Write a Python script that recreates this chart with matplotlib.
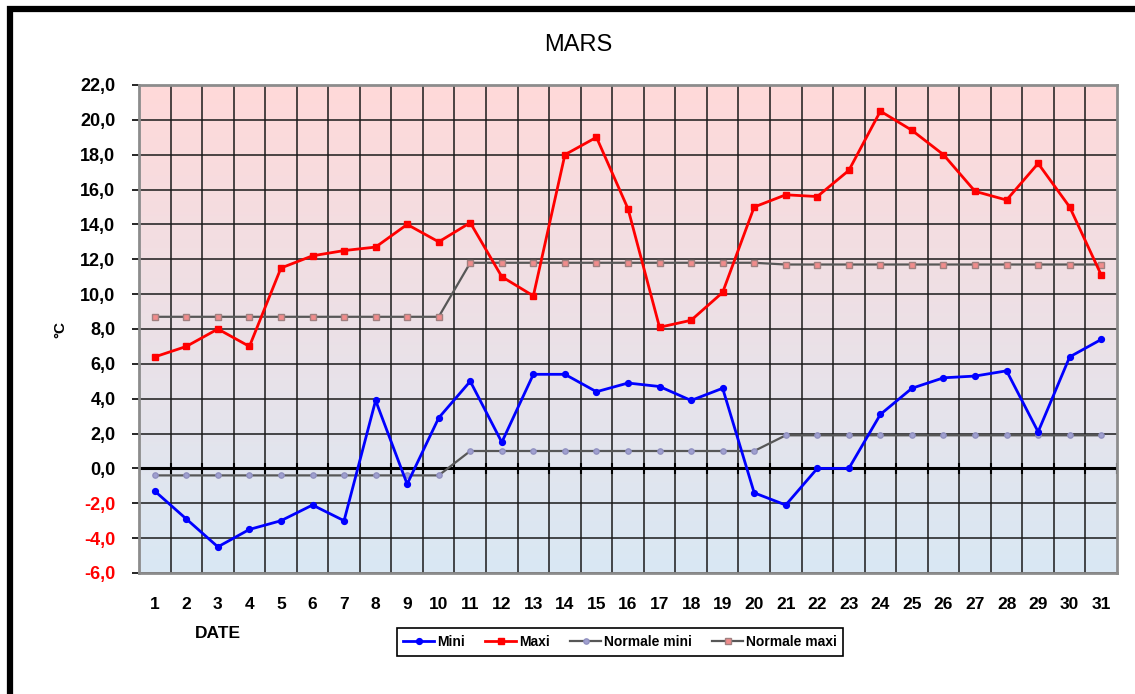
import matplotlib
matplotlib.use('Agg')
import matplotlib.pyplot as plt
import numpy as np
from matplotlib.colors import LinearSegmentedColormap
from matplotlib.patches import Rectangle

plt.rcParams['font.family'] = ['Liberation Sans', 'DejaVu Sans']

# Daily temperatures for March
days = list(range(1, 32))
mini = [-1.3, -2.9, -4.5, -3.5, -3.0, -2.1, -3.0, 3.9, -0.9, 2.9,
        5.0, 1.5, 5.4, 5.4, 4.4, 4.9, 4.7, 3.9, 4.6, -1.4,
        -2.1, 0.0, 0.0, 3.1, 4.6, 5.2, 5.3, 5.6, 2.1, 6.4, 7.4]
maxi = [6.4, 7.0, 8.0, 7.0, 11.5, 12.2, 12.5, 12.7, 14.0, 13.0,
        14.1, 11.0, 9.9, 18.0, 19.0, 14.9, 8.1, 8.5, 10.1, 15.0,
        15.7, 15.6, 17.1, 20.5, 19.4, 18.0, 15.9, 15.4, 17.5, 15.0, 11.1]
normale_mini = [-0.4] * 10 + [1.0] * 10 + [1.9] * 11
normale_maxi = [8.7] * 10 + [11.8] * 10 + [11.7] * 11

y_ticks = np.arange(-6, 23, 2)

fig = plt.figure(figsize=(11.35, 6.94), dpi=100)
ax = fig.add_axes([139 / 1135, 1 - 573 / 694, (1117 - 139) / 1135, (573 - 85) / 694])

xmin, xmax = 0.5, len(days) + 0.5
ymin, ymax = -6, 22

# background gradient (pink at top, light blue at bottom)
cmap = LinearSegmentedColormap.from_list('bg', ['#d9e8f4', '#ffd9d9'])
grad = np.linspace(0, 1, 256).reshape(-1, 1)
ax.imshow(grad, extent=[xmin, xmax, ymin, ymax], origin='lower', aspect='auto',
          cmap=cmap, zorder=0)

# grid
for yv in y_ticks:
    ax.axhline(yv, color='#1a1a1a', lw=1.1, zorder=1)
bounds = np.arange(xmin, xmax + 0.01, 1)
for xv in bounds[1:-1]:
    ax.axvline(xv, color='#1a1a1a', lw=1.1, zorder=1)

# zero axis line with cross ticks
ax.axhline(0, color='black', lw=2.2, zorder=2)
ax.vlines(bounds, -0.3, 0.3, color='black', lw=1.5, zorder=2)

ax.plot(days, normale_mini, color='#575757', lw=1.6, marker='o', ms=3.8,
        mfc='#a0a0d0', mec='#9090c0', zorder=3, label='Normale mini')
ax.plot(days, normale_maxi, color='#575757', lw=1.6, marker='s', ms=3.8,
        mfc='#f08c8c', mec='#a08080', zorder=3, label='Normale maxi')
ax.plot(days, mini, color='#0000ff', lw=2.0, marker='o', ms=4.2,
        zorder=4, label='Mini')
ax.plot(days, maxi, color='#ff0000', lw=2.0, marker='s', ms=5,
        zorder=4, label='Maxi')

ax.set_xlim(xmin, xmax)
ax.set_ylim(ymin, ymax)

ax.set_yticks(y_ticks)
ax.set_yticklabels([f'{v:.1f}'.replace('.', ',') for v in y_ticks],
                   fontsize=13, fontweight='bold')
for lab, v in zip(ax.get_yticklabels(), y_ticks):
    lab.set_color('red' if v < 0 else 'black')
ax.tick_params(axis='y', direction='out', length=5, width=1.2, pad=12)

ax.set_xticks(days)
ax.set_xticklabels([str(d) for d in days], fontsize=12.5, fontweight='bold')
ax.tick_params(axis='x', length=0, pad=17)

for sp in ax.spines.values():
    sp.set_color('#8c8c8c')
    sp.set_linewidth(2)

fig.text(578 / 1135, 1 - 45 / 694, 'MARS', fontsize=17, ha='center', va='center')
fig.text(60 / 1135, 1 - 330 / 694, '°C', fontsize=11, fontweight='bold',
         rotation=90, ha='center', va='center')
fig.text(218 / 1135, 1 - 634 / 694, 'DATE', fontsize=12.5, fontweight='bold',
         ha='center', va='center')

handles, labels = ax.get_legend_handles_labels()
order = [labels.index(n) for n in ['Mini', 'Maxi', 'Normale mini', 'Normale maxi']]
leg = fig.legend([handles[i] for i in order], [labels[i] for i in order],
                 loc='center', bbox_to_anchor=(620 / 1135, 1 - 642 / 694), ncol=4,
                 fancybox=False, edgecolor='black', framealpha=1,
                 prop={'weight': 'bold', 'size': 10}, handlelength=2.2,
                 handletextpad=0.2, columnspacing=1.5, borderpad=0.5)
leg.get_frame().set_linewidth(1.2)

# outer black frame
fig.patches.append(Rectangle((10 / 1135, -0.2), 1.5, 1.2 - 9 / 694, transform=fig.transFigure,
                             fill=False, edgecolor='black', lw=4.5))

fig.savefig('out.png', dpi=100, facecolor='white')
